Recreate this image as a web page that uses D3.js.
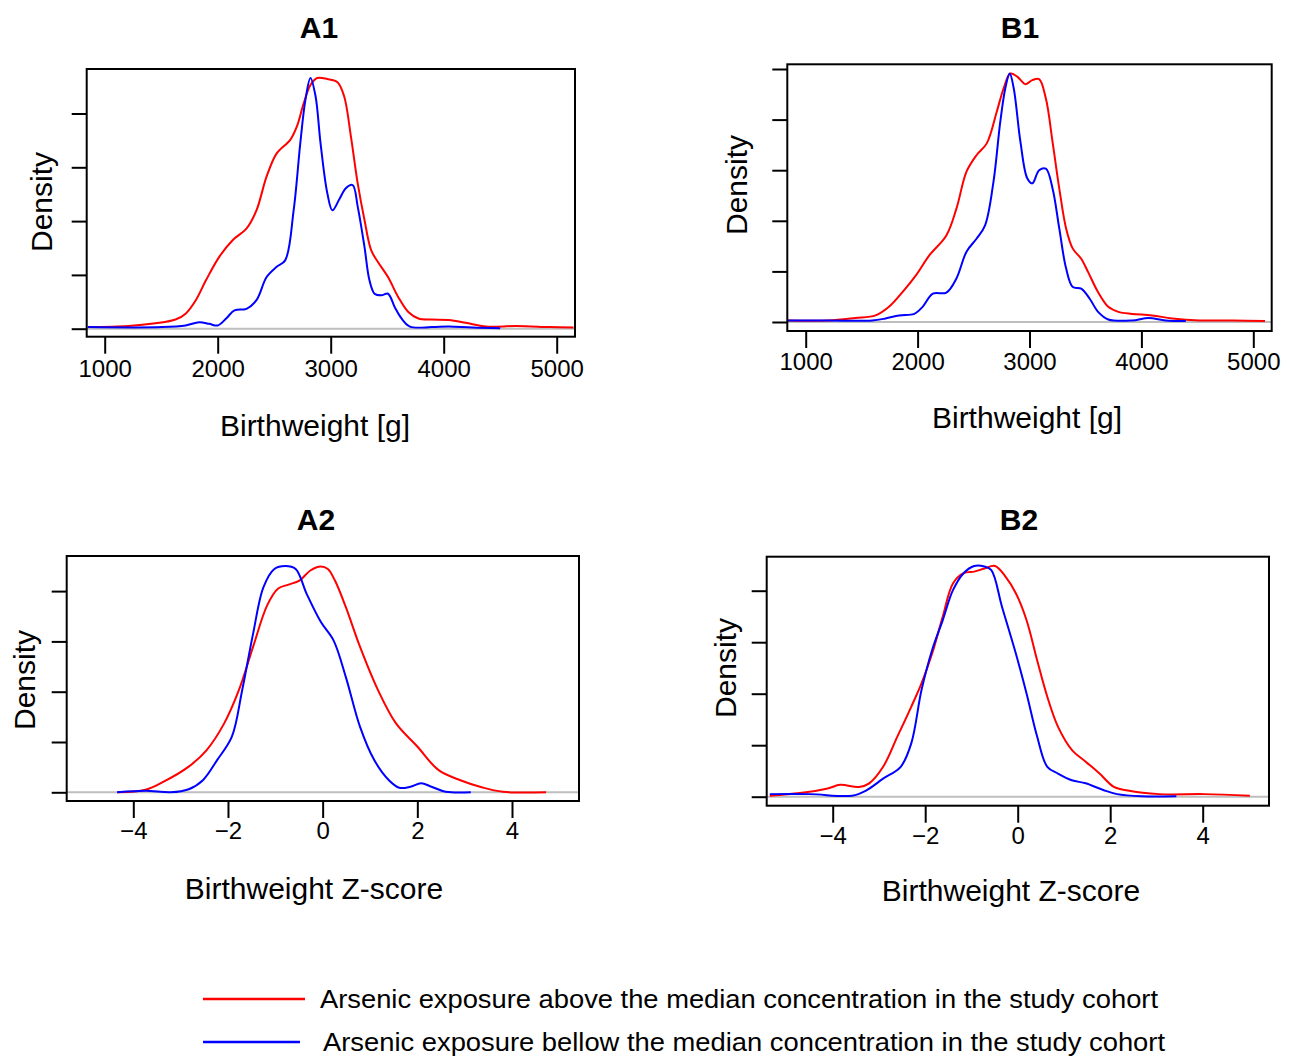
<!DOCTYPE html>
<html lang="en">
<head>
    <meta charset="UTF-8">
    <title>Birthweight density by arsenic exposure</title>
    <script src="https://d3js.org/d3.v7.min.js"></script>
    <style>
        body {
            margin: 0;
            background: #fff;
            font-family: "Liberation Sans", Arial, sans-serif;
        }
        .tick text {
            font-size: 24px;
            fill: #000;
        }
        .tick line {
            stroke: #000;
            stroke-width: 2px;
        }
        .box {
            fill: none;
            stroke: #000;
            stroke-width: 2px;
        }
    </style>
</head>
<body>
    <svg width="1295" height="1057"></svg>

    <script>
        // density curves, [x, density] (density in tick units)
        const a1Above = [[851,0.03],[1209,0.05],[1448,0.1],[1627,0.17],[1716,0.28],[1806,0.53],[1896,0.9],[2015,1.34],[2134,1.65],[2254,1.86],[2343,2.2],[2433,2.83],[2522,3.26],[2642,3.51],[2701,3.76],[2761,4.19],[2821,4.53],[2881,4.66],[2970,4.64],[3060,4.58],[3119,4.32],[3179,3.57],[3239,2.7],[3299,2.02],[3358,1.46],[3418,1.24],[3507,0.96],[3597,0.59],[3687,0.31],[3776,0.19],[3896,0.17],[4045,0.16],[4194,0.11],[4373,0.04],[4642,0.05],[4940,0.03],[5149,0.02]];
        const a1Below = [[851,0.03],[1507,0.03],[1716,0.06],[1836,0.12],[1925,0.09],[2000,0.06],[2075,0.19],[2149,0.34],[2254,0.37],[2343,0.53],[2433,0.96],[2522,1.15],[2597,1.27],[2672,2.2],[2731,3.45],[2776,4.25],[2821,4.66],[2866,4.32],[2910,3.45],[2970,2.52],[3015,2.2],[3075,2.4],[3134,2.61],[3194,2.67],[3239,2.27],[3299,1.52],[3343,0.9],[3388,0.65],[3448,0.62],[3507,0.65],[3567,0.4],[3627,0.19],[3701,0.04],[3896,0.03],[4045,0.04],[4254,0.02],[4500,0.01]];

        const b1Above = [[840,0.03],[1202,0.03],[1443,0.08],[1624,0.13],[1744,0.3],[1865,0.59],[1985,0.92],[2106,1.32],[2257,1.71],[2347,2.24],[2437,2.97],[2528,3.3],[2618,3.53],[2708,4.16],[2769,4.62],[2829,4.91],[2890,4.85],[2965,4.7],[3025,4.78],[3086,4.8],[3146,4.42],[3206,3.56],[3266,2.64],[3327,1.85],[3387,1.45],[3462,1.25],[3523,0.99],[3613,0.59],[3704,0.3],[3794,0.2],[3915,0.16],[4095,0.13],[4276,0.07],[4517,0.03],[4818,0.03],[5105,0.02]];
        const b1Below = [[840,0.03],[1202,0.03],[1594,0.03],[1714,0.07],[1835,0.13],[1970,0.16],[2045,0.3],[2136,0.56],[2257,0.58],[2347,0.86],[2437,1.39],[2528,1.65],[2603,1.91],[2678,2.77],[2739,3.96],[2784,4.62],[2823,4.91],[2859,4.62],[2919,3.56],[2980,2.84],[3025,2.74],[3086,3.0],[3146,3.03],[3206,2.64],[3266,1.85],[3327,1.06],[3387,0.69],[3462,0.66],[3538,0.46],[3613,0.2],[3704,0.05],[3915,0.03],[4065,0.08],[4216,0.03],[4397,0.02]];

        const a2Above = [[-4.34,0],[-3.74,0.05],[-3.36,0.21],[-2.83,0.51],[-2.45,0.84],[-2.08,1.37],[-1.77,2.03],[-1.47,2.89],[-1.17,3.72],[-0.94,4.05],[-0.72,4.13],[-0.49,4.21],[-0.26,4.41],[-0.04,4.49],[0.11,4.44],[0.26,4.21],[0.49,3.68],[0.79,2.89],[1.17,2.03],[1.55,1.37],[2.0,0.91],[2.45,0.44],[2.91,0.24],[3.36,0.1],[3.81,0.01],[4.72,0]];
        const a2Below = [[-4.34,0],[-3.74,0.03],[-3.21,0],[-2.83,0.06],[-2.53,0.24],[-2.23,0.64],[-1.92,1.1],[-1.7,2.03],[-1.47,3.15],[-1.25,4.08],[-1.02,4.44],[-0.79,4.5],[-0.57,4.44],[-0.34,3.95],[-0.04,3.39],[0.23,3.02],[0.49,2.29],[0.79,1.3],[1.09,0.64],[1.4,0.24],[1.62,0.09],[1.85,0.11],[2.08,0.18],[2.3,0.11],[2.6,0.01],[3.13,0]];

        const b2Above = [[-5.36,0.02],[-4.71,0.07],[-4.11,0.16],[-3.84,0.23],[-3.43,0.19],[-3.21,0.26],[-2.91,0.58],[-2.6,1.17],[-2.3,1.75],[-2.08,2.2],[-1.85,2.78],[-1.62,3.5],[-1.4,4.14],[-1.17,4.34],[-0.94,4.37],[-0.72,4.43],[-0.49,4.48],[-0.26,4.27],[-0.04,3.95],[0.19,3.43],[0.42,2.65],[0.64,1.94],[0.87,1.36],[1.17,0.91],[1.47,0.68],[1.77,0.45],[2.08,0.19],[2.38,0.12],[3.06,0.05],[4.04,0.05],[5.02,0.02]];
        const b2Below = [[-5.36,0.05],[-4.49,0.05],[-3.58,0.02],[-3.28,0.12],[-2.91,0.35],[-2.53,0.58],[-2.3,1.04],[-2.08,2.07],[-1.85,2.85],[-1.62,3.43],[-1.4,4.01],[-1.17,4.34],[-0.94,4.48],[-0.72,4.47],[-0.57,4.4],[-0.34,3.69],[-0.04,2.78],[0.19,2.01],[0.42,1.17],[0.64,0.58],[0.87,0.45],[1.17,0.32],[1.47,0.26],[1.85,0.13],[2.15,0.05],[2.68,0.01],[3.43,0.01]];

        const weightTicks = [1000, 2000, 3000, 4000, 5000];
        const zTicks = [-4, -2, 0, 2, 4];

        const legendLabels = [
            "Arsenic exposure above the median concentration in the study cohort",
            "Arsenic exposure bellow the median concentration in the study cohort"
        ];

        const panels = [
            {id: "a1", title: "A1", xlab: "Birthweight [g]", above: a1Above, below: a1Below, xTicks: weightTicks, nY: 4,
             xr: [104.7, 556.7], box: {l: 86.7, r: 575, t: 69, b: 336.7}, y0: 328.7, yUnit: 53.8,
             titleX: 319, titleY: 38, ylabX: 52, ylabY: 202, xlabX: 315, xlabY: 436, pad: 6},
            {id: "b1", title: "B1", xlab: "Birthweight [g]", above: b1Above, below: b1Below, xTicks: weightTicks, nY: 5,
             xr: [805.7, 1253.3], box: {l: 787.3, r: 1271.7, t: 64.3, b: 331}, y0: 322, yUnit: 50.6,
             titleX: 1020, titleY: 38, ylabX: 747, ylabY: 185, xlabX: 1027, xlabY: 428, pad: 5},
            {id: "a2", title: "A2", xlab: "Birthweight Z-score", above: a2Above, below: a2Below, xTicks: zTicks, nY: 4,
             xr: [133.3, 512], box: {l: 66.7, r: 579, t: 556, b: 801}, y0: 792.3, yUnit: 50.3,
             titleX: 316, titleY: 530, ylabX: 35, ylabY: 680, xlabX: 314, xlabY: 899, pad: 4},
            {id: "b2", title: "B2", xlab: "Birthweight Z-score", above: b2Above, below: b2Below, xTicks: zTicks, nY: 4,
             xr: [832.7, 1202.7], box: {l: 766.7, r: 1269, t: 556.7, b: 805.7}, y0: 796.7, yUnit: 51.5,
             titleX: 1019, titleY: 530, ylabX: 736, ylabY: 668, xlabX: 1011, xlabY: 901, pad: 4}
        ];

        const svg = d3.select("svg");
        const fmt = d => d < 0 ? "\u2212" + Math.abs(d) : String(d);

        panels.forEach(p => {
            const x = d3.scaleLinear()
                .domain([p.xTicks[0], p.xTicks[p.xTicks.length - 1]])
                .range(p.xr);
            const y = d3.scaleLinear()
                .domain([0, p.nY])
                .range([p.y0, p.y0 - p.nY * p.yUnit]);

            const g = svg.append("g");

            g.append("clipPath").attr("id", "clip-" + p.id)
                .append("rect")
                .attr("x", p.box.l).attr("y", p.box.t)
                .attr("width", p.box.r - p.box.l).attr("height", p.box.b - p.box.t);

            const plot = g.append("g").attr("clip-path", `url(#clip-${p.id})`);

            // zero line
            plot.append("line")
                .attr("x1", p.box.l).attr("x2", p.box.r)
                .attr("y1", y(0)).attr("y2", y(0))
                .attr("stroke", "#bebebe").attr("stroke-width", 2);

            const line = d3.line()
                .x(d => x(d[0]))
                .y(d => y(d[1]))
                .curve(d3.curveCatmullRom.alpha(0.5));

            plot.append("path").datum(p.above)
                .attr("d", line).attr("fill", "none")
                .attr("stroke", "#ff0000").attr("stroke-width", 2);

            plot.append("path").datum(p.below)
                .attr("d", line).attr("fill", "none")
                .attr("stroke", "#0000ff").attr("stroke-width", 2);

            // axes
            g.append("g")
                .attr("transform", `translate(0,${p.box.b})`)
                .call(d3.axisBottom(x).tickValues(p.xTicks).tickFormat(fmt)
                    .tickSize(17).tickSizeOuter(0).tickPadding(p.pad))
                .call(a => a.select(".domain").remove())
                .selectAll("text").attr("font-family", "Liberation Sans, Arial, sans-serif");

            g.append("g")
                .attr("transform", `translate(${p.box.l},0)`)
                .call(d3.axisLeft(y).tickValues(d3.range(0, p.nY + 1)).tickFormat("")
                    .tickSize(15).tickSizeOuter(0))
                .call(a => a.select(".domain").remove());

            g.append("rect").attr("class", "box")
                .attr("x", p.box.l).attr("y", p.box.t)
                .attr("width", p.box.r - p.box.l).attr("height", p.box.b - p.box.t);

            // titles and labels
            g.append("text")
                .attr("x", p.titleX).attr("y", p.titleY)
                .attr("text-anchor", "middle")
                .attr("font-size", 30).attr("font-weight", "bold")
                .text(p.title);

            g.append("text")
                .attr("transform", `translate(${p.ylabX},${p.ylabY}) rotate(-90)`)
                .attr("text-anchor", "middle")
                .attr("font-size", 30)
                .text("Density");

            g.append("text")
                .attr("x", p.xlabX).attr("y", p.xlabY)
                .attr("text-anchor", "middle")
                .attr("font-size", 30)
                .text(p.xlab);
        });

        // legend
        const legendColors = ["#ff0000", "#0000ff"];
        const legend = svg.append("g");
        legendLabels.forEach((label, i) => {
            const ly = 999 + i * 43;
            legend.append("line")
                .attr("x1", 203).attr("x2", i === 0 ? 305 : 300)
                .attr("y1", ly).attr("y2", ly)
                .attr("stroke", legendColors[i]).attr("stroke-width", 2.5);
            legend.append("text")
                .attr("x", i === 0 ? 320 : 323).attr("y", ly + 9)
                .attr("font-size", 26)
                .attr("textLength", i === 0 ? 838 : 842)
                .attr("lengthAdjust", "spacingAndGlyphs")
                .text(label);
        });
    </script>
</body>
</html>
